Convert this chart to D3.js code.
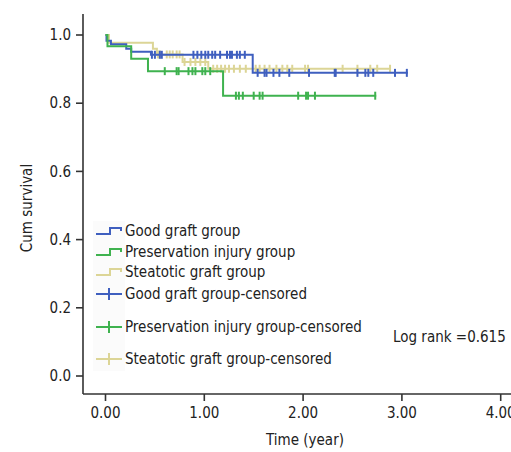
<!DOCTYPE html>
<html>
<head>
<meta charset="utf-8">
<script src="https://cdn.jsdelivr.net/npm/d3@7.9.0/dist/d3.min.js"></script>
<style>
  body { margin: 0; background: #fff; }
  svg { display: block; }
  text { font-family: "Liberation Sans Narrow", "DejaVu Sans Condensed", "Roboto Condensed", sans-serif; font-stretch: condensed; fill: #222; }
</style>
</head>
<body>
<svg width="511" height="452"></svg>
<script>
// Step curves (time in years, cumulative survival after each drop)
const goodTimes = [0, 0.01, 0.055, 0.21, 0.26, 0.46, 1.49];
const goodSurv = [1.0, 0.983, 0.973, 0.96, 0.951, 0.942, 0.889];
const goodEnd = 3.06;
const goodCensored = [0.47, 0.50, 0.55, 0.57, 0.89, 0.93, 0.97, 1.01, 1.04, 1.08, 1.11, 1.16, 1.23, 1.26, 1.28, 1.33, 1.36, 1.41,
  1.54, 1.61, 1.63, 1.70, 1.76, 1.86, 2.06, 2.32, 2.33, 2.55, 2.63, 2.66, 2.71, 2.93, 3.05];

const presTimes = [0, 0.02, 0.26, 0.43, 1.19];
const presSurv = [1.0, 0.967, 0.93, 0.894, 0.822];
const presEnd = 2.74;
const presCensored = [0.60, 0.72, 0.74, 0.84, 0.88, 0.91, 0.98, 1.01, 1.06,
  1.32, 1.35, 1.39, 1.50, 1.56, 1.59, 1.95, 2.03, 2.05, 2.12, 2.73];

const steaTimes = [0, 0.035, 0.48, 0.52, 0.78, 1.04];
const steaSurv = [1.0, 0.977, 0.96, 0.943, 0.921, 0.901];
const steaEnd = 2.89;
const steaCensored = [0.53, 0.55, 0.62, 0.65, 0.68, 0.72, 0.75, 0.80, 0.86, 0.91, 0.96, 1.01,
  1.09, 1.13, 1.17, 1.21, 1.25, 1.30, 1.36, 1.42, 1.52, 1.56, 1.61, 1.66, 1.73, 1.79, 1.84, 1.89,
  2.02, 2.05, 2.40, 2.55, 2.68, 2.75, 2.88];

const xTicks = [0, 1, 2, 3, 4];
const yTicks = [0, 0.2, 0.4, 0.6, 0.8, 1.0];

const legendLabels = ['Good graft group', 'Preservation injury group', 'Steatotic graft group',
  'Good graft group-censored', 'Preservation injury group-censored', 'Steatotic graft group-censored'];
const colors = { good: '#3f5fbf', pres: '#3fb24f', stea: '#dcd596' };

const svg = d3.select('svg');
const x = d3.scaleLinear().domain([0, 4]).range([105.5, 500.7]);
const y = d3.scaleLinear().domain([0, 1]).range([376, 35]);
const axisX = 83, axisY = 394;

// Curves (draw order: steatotic, good, preservation)
const groups = [
  { key: 'stea', times: steaTimes, surv: steaSurv, end: steaEnd, cens: steaCensored },
  { key: 'good', times: goodTimes, surv: goodSurv, end: goodEnd, cens: goodCensored },
  { key: 'pres', times: presTimes, surv: presSurv, end: presEnd, cens: presCensored }
];

const line = d3.line().x(d => x(d[0])).y(d => y(d[1])).curve(d3.curveStepAfter);

groups.forEach(g => {
  const pts = g.times.map((t, i) => [t, g.surv[i]]);
  pts.push([g.end, g.surv[g.surv.length - 1]]);
  svg.append('path')
    .attr('d', line(pts))
    .attr('fill', 'none')
    .attr('stroke', colors[g.key])
    .attr('stroke-width', 2);

  const survAt = t => {
    let s = g.surv[0];
    g.times.forEach((tt, i) => { if (tt <= t) s = g.surv[i]; });
    return s;
  };
  svg.append('g').selectAll('line')
    .data(g.cens)
    .join('line')
    .attr('x1', d => x(d)).attr('x2', d => x(d))
    .attr('y1', d => y(survAt(d)) - 4).attr('y2', d => y(survAt(d)) + 4)
    .attr('stroke', colors[g.key])
    .attr('stroke-width', 2);
});

// Axes
const axG = svg.append('g').attr('stroke', '#333').attr('stroke-width', 1.6);
axG.append('line').attr('x1', axisX).attr('x2', axisX).attr('y1', 14).attr('y2', axisY);
axG.append('line').attr('x1', axisX).attr('x2', 511).attr('y1', axisY).attr('y2', axisY);

axG.selectAll('.yt').data(yTicks).join('line')
  .attr('x1', axisX - 7).attr('x2', axisX).attr('y1', d => y(d)).attr('y2', d => y(d));
axG.selectAll('.xt').data(xTicks).join('line')
  .attr('x1', d => x(d)).attr('x2', d => x(d)).attr('y1', axisY).attr('y2', axisY + 7);

svg.append('g').selectAll('text').data(yTicks).join('text')
  .attr('x', 71).attr('y', d => y(d)).attr('dy', '0.35em')
  .attr('text-anchor', 'end').attr('font-size', 15)
  .text(d => d.toFixed(1));

svg.append('g').selectAll('text').data(xTicks).join('text')
  .attr('x', d => x(d)).attr('y', 418)
  .attr('text-anchor', 'middle').attr('font-size', 15)
  .text(d => d.toFixed(2));

svg.append('text').attr('x', 305).attr('y', 445).attr('text-anchor', 'middle')
  .attr('font-size', 15).text('Time (year)');
svg.append('text').attr('transform', 'translate(32,208) rotate(-90)')
  .attr('text-anchor', 'middle').attr('font-size', 15).text('Cum survival');

// Legend
svg.append('rect').attr('x', 93).attr('y', 221).attr('width', 32).attr('height', 150).attr('fill', '#fbfbfb');
const legY = [231, 252, 272, 294, 327, 359];
const legKeys = ['good', 'pres', 'stea', 'good', 'pres', 'stea'];
legendLabels.forEach((lab, i) => {
  const c = colors[legKeys[i]];
  const cy = legY[i];
  if (i < 3) {
    svg.append('path')
      .attr('d', `M96,${cy + 3}H110V${cy - 3}H121V${cy}`)
      .attr('fill', 'none').attr('stroke', c).attr('stroke-width', 2);
  } else {
    svg.append('line').attr('x1', 96).attr('x2', 122).attr('y1', cy).attr('y2', cy)
      .attr('stroke', c).attr('stroke-width', 2);
    svg.append('line').attr('x1', 109).attr('x2', 109).attr('y1', cy - 6).attr('y2', cy + 6)
      .attr('stroke', c).attr('stroke-width', 2);
  }
  svg.append('text').attr('x', 125).attr('y', cy).attr('dy', '0.35em')
    .attr('font-size', 15).text(lab);
});

svg.append('text').attr('x', 393).attr('y', 337).attr('dy', '0.35em')
  .attr('font-size', 15).text('Log rank =0.615');
</script>
</body>
</html>
